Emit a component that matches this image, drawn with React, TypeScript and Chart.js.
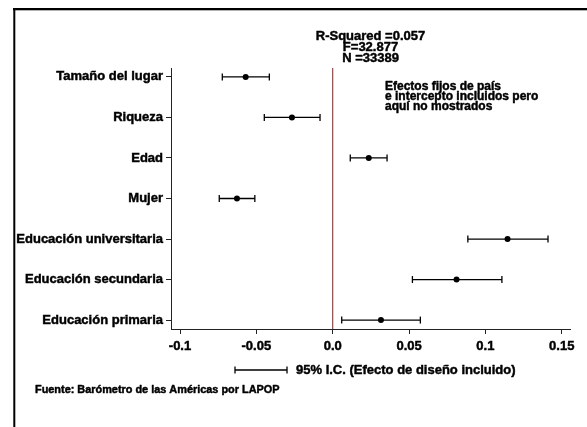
import React, { useEffect, useRef } from 'react';
import { Chart, registerables } from 'chart.js';

Chart.register(...registerables);

// ---- Data ----
const categories = [
  'Tamaño del lugar',
  'Riqueza',
  'Edad',
  'Mujer',
  'Educación universitaria',
  'Educación secundaria',
  'Educación primaria',
];
const coefficients = [-0.057, -0.0267, 0.0236, -0.0627, 0.1145, 0.0811, 0.0316];
const ciLower = [-0.0723, -0.0448, 0.0115, -0.0743, 0.0885, 0.0522, 0.0059];
const ciUpper = [-0.0415, -0.0083, 0.0356, -0.051, 0.141, 0.1108, 0.0574];
const xTickValues = [-0.1, -0.05, 0, 0.05, 0.1, 0.15];
const xTickLabels = ['-0.1', '-0.05', '0.0', '0.05', '0.1', '0.15'];
const statsLines = ['R-Squared =0.057', 'F=32.877', 'N =33389'];
const noteLines = ['Efectos fijos de país', 'e intercepto incluidos pero', 'aquí no mostrados'];
const legendText = '95% I.C. (Efecto de diseño incluido)';
const sourceText = 'Fuente: Barómetro de las Américas por LAPOP';

const FONT = "'Liberation Sans', Arial, Helvetica, sans-serif";
const X_MIN = -0.1059;
const X_MAX = 0.1554;
const Y_MIN = -0.22;
const Y_MAX = 6.22;
const STROKE = 0.45;

function heavyText(ctx: CanvasRenderingContext2D, t: string, x: number, y: number) {
  ctx.strokeText(t, x, y);
  ctx.fillText(t, x, y);
}

const decorPlugin = {
  id: 'decor',
  beforeDraw(chart: any) {
    const ctx = chart.ctx;
    ctx.save();
    ctx.fillStyle = '#ffffff';
    ctx.fillRect(0, 0, chart.width, chart.height);
    ctx.restore();
  },
  beforeDatasetsDraw(chart: any) {
    const ctx = chart.ctx;
    const xs = chart.scales.x;
    const area = chart.chartArea;
    const px = xs.getPixelForValue(0);
    ctx.save();
    ctx.strokeStyle = '#9e2a2e';
    ctx.lineWidth = 1.1;
    ctx.beginPath();
    ctx.moveTo(px, area.top);
    ctx.lineTo(px, area.bottom);
    ctx.stroke();
    ctx.restore();
  },
  afterDraw(chart: any) {
    const ctx = chart.ctx;
    ctx.save();
    // frame
    ctx.fillStyle = '#000';
    ctx.fillRect(13, 8, chart.width - 13, 2.3);
    ctx.fillRect(13.3, 8, 2, chart.height - 8);

    ctx.fillStyle = '#000';
    ctx.strokeStyle = '#000';
    ctx.lineWidth = STROKE;
    ctx.lineJoin = 'round';

    // stats
    ctx.font = `bold 13px ${FONT}`;
    ctx.textAlign = 'center';
    ctx.textBaseline = 'middle';
    statsLines.forEach((t, i) => heavyText(ctx, t, 370.5, 36.8 + i * 10.8));

    // note
    ctx.font = `bold 12px ${FONT}`;
    ctx.textAlign = 'left';
    noteLines.forEach((t, i) => heavyText(ctx, t, 385, 87 + i * 10));

    // legend sample
    const ly = 370;
    ctx.lineWidth = 1.3;
    ctx.beginPath();
    ctx.moveTo(235, ly);
    ctx.lineTo(287, ly);
    ctx.moveTo(235, ly - 3.5);
    ctx.lineTo(235, ly + 3.5);
    ctx.moveTo(287, ly - 3.5);
    ctx.lineTo(287, ly + 3.5);
    ctx.stroke();
    ctx.lineWidth = STROKE;
    ctx.font = `bold 13px ${FONT}`;
    heavyText(ctx, legendText, 296, ly);

    // source
    ctx.font = `bold 10.9px ${FONT}`;
    heavyText(ctx, sourceText, 35, 390);
    ctx.restore();
  },
};

export default function App() {
  const canvasRef = useRef<HTMLCanvasElement | null>(null);

  useEffect(() => {
    const canvas = canvasRef.current;
    if (!canvas) return;

    const ciDatasets = categories.map((c, i) => ({
      label: 'CI ' + c,
      type: 'scatter' as const,
      data: [
        { x: ciLower[i], y: i },
        { x: ciUpper[i], y: i },
      ],
      showLine: true,
      borderColor: '#000',
      borderWidth: 1.3,
      pointStyle: 'line' as const,
      rotation: 90,
      pointRadius: 3.5,
      pointBorderColor: '#000',
      pointBorderWidth: 1.3,
      pointHoverRadius: 3.5,
    }));

    const tickFont = { family: FONT, size: 13, weight: 'bold' as const };

    const chart = new Chart(canvas, {
      type: 'scatter',
      data: {
        datasets: [
          {
            label: 'Coeficiente',
            data: coefficients.map((v, i) => ({ x: v, y: i })),
            backgroundColor: '#000',
            borderColor: '#000',
            pointRadius: 3,
            pointBorderWidth: 0,
            pointStyle: 'circle',
          },
          ...ciDatasets,
        ],
      },
      options: {
        animation: false,
        responsive: false,
        devicePixelRatio: 1,
        layout: { padding: { top: 68, left: 0, right: 17, bottom: 68 } },
        plugins: {
          legend: { display: false },
          tooltip: { enabled: false },
          title: { display: false },
        },
        scales: {
          x: {
            type: 'linear',
            min: X_MIN,
            max: X_MAX,
            afterBuildTicks: (scale: any) => {
              scale.ticks = xTickValues.map((v) => ({ value: v }));
            },
            afterFit: (scale: any) => {
              scale.height = 30;
            },
            ticks: {
              autoSkip: false,
              maxRotation: 0,
              padding: 5,
              color: '#000',
              textStrokeColor: '#000',
              textStrokeWidth: STROKE,
              font: tickFont,
              callback: (_v: any, idx: number) => xTickLabels[idx],
            },
            grid: {
              drawOnChartArea: false,
              drawTicks: true,
              tickLength: 5,
              color: '#222',
              lineWidth: 1,
            },
            border: { display: true, color: '#222', width: 1 },
          },
          y: {
            type: 'linear',
            min: Y_MIN,
            max: Y_MAX,
            reverse: true,
            afterBuildTicks: (scale: any) => {
              scale.ticks = categories.map((_, i) => ({ value: i }));
            },
            afterFit: (scale: any) => {
              scale.width = 171;
            },
            ticks: {
              autoSkip: false,
              padding: 3,
              color: '#000',
              textStrokeColor: '#000',
              textStrokeWidth: STROKE,
              font: tickFont,
              callback: (v: any) => categories[Math.round(Number(v))] ?? '',
            },
            grid: {
              drawOnChartArea: false,
              drawTicks: true,
              tickLength: 5,
              color: '#222',
              lineWidth: 1,
            },
            border: { display: true, color: '#222', width: 1 },
          },
        },
      },
      plugins: [decorPlugin],
    } as any);

    return () => chart.destroy();
  }, []);

  return (
    <div style={{ position: 'absolute', left: 0, top: 0, width: 587, height: 427, background: '#fff' }}>
      <canvas ref={canvasRef} width={587} height={427} style={{ display: 'block' }} />
    </div>
  );
}
